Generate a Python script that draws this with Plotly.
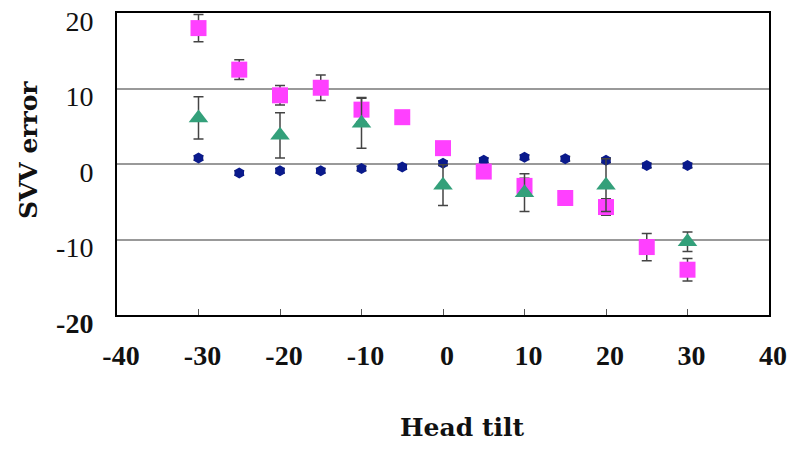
import plotly.graph_objects as go

# head tilt angles
tilt = [-30, -25, -20, -15, -10, -5, 0, 5, 10, 15, 20, 25, 30]

# series 1 (navy)
blue_y = [0.8, -1.2, -0.9, -0.9, -0.6, -0.4, 0.1, 0.5, 0.9, 0.7, 0.5, -0.2, -0.2]
blue_err = [0.3, 0.3, 0.3, 0.3, 0.3, 0.3, 0.3, 0.3, 0.3, 0.3, 0.3, 0.3, 0.3]

# series 2 (magenta)
pink_y = [18.0, 12.5, 9.1, 10.1, 7.2, 6.2, 2.1, -1.0, -2.9, -4.5, -5.7, -11.0, -14.0]
pink_err = [1.8, 1.3, 1.3, 1.7, 1.6, 0.5, 0.2, 0.3, 1.0, 0.3, 1.1, 1.8, 1.5]

# series 3 (green) - only every 10 degrees
green_x = [-30, -20, -10, 0, 10, 20, 30]
green_y = [6.1, 3.8, 5.4, -2.8, -3.8, -2.8, -10.3]
green_err = [2.8, 3.0, 3.3, 2.7, 2.5, 3.5, 1.3]

x_ticks = [-40, -30, -20, -10, 0, 10, 20, 30, 40]
y_ticks = [-20, -10, 0, 10, 20]

serif = "Liberation Serif"
title_font = dict(size=25, family="DejaVu Serif", color="#111111")
err_style = dict(type="data", thickness=1.5, width=5, color="#444444")

fig = go.Figure()
fig.add_trace(go.Scatter(
    x=tilt, y=blue_y, mode="markers",
    error_y=dict(array=blue_err, **err_style),
    marker=dict(symbol="hexagon", size=11, color="#0a1a8c"),
))
fig.add_trace(go.Scatter(
    x=tilt, y=pink_y, mode="markers",
    error_y=dict(array=pink_err, **err_style),
    marker=dict(symbol="square", size=16, color="#ff40ff"),
))
fig.add_trace(go.Scatter(
    x=green_x, y=green_y, mode="markers",
    error_y=dict(array=green_err, **err_style),
    marker=dict(symbol="triangle-up", size=17, color="#33a07a"),
))

fig.update_layout(
    width=800, height=449,
    margin=dict(l=117, r=31, t=13, b=134),
    plot_bgcolor="white", paper_bgcolor="white",
    showlegend=False,
    font=dict(family=serif, color="#111111"),
    annotations=[
        dict(text="<b>Head tilt</b>", x=0.529, y=-0.374, xref="paper", yref="paper",
             xanchor="center", yanchor="middle", showarrow=False, font=title_font),
        dict(text="<b>SVV error</b>", x=-0.1365, y=0.546, xref="paper", yref="paper",
             xanchor="center", yanchor="middle", showarrow=False, textangle=-90,
             font=title_font),
    ],
)
fig.update_xaxes(
    range=[-40, 40], tickvals=x_ticks,
    ticktext=[f"<b>{v}</b>" for v in x_ticks],
    tickfont=dict(size=28, family=serif),
    ticks="inside", ticklen=6, tickcolor="#555555",
    showgrid=False, zeroline=False,
    showline=True, linecolor="black", linewidth=2, mirror=True,
    ticklabelstandoff=14, ticklabelshift=4, ticklabeloverflow="allow",
    automargin=False,
)
fig.update_yaxes(
    range=[-20, 20], tickvals=y_ticks,
    ticktext=["<b>-20</b>", "-10", "0", "10", "20"],
    tickfont=dict(size=28, family=serif),
    ticks="", showgrid=True, gridcolor="#999999", gridwidth=2,
    zeroline=False,
    showline=True, linecolor="black", linewidth=2, mirror=True,
    ticklabelstandoff=16, ticklabelshift=8, ticklabeloverflow="allow",
    automargin=False,
)

# drop the default page margin so the figure fills the window exactly
fig.write_html(
    "out.html",
    config={"displayModeBar": False},
    post_script="document.body.style.margin='0';",
)
